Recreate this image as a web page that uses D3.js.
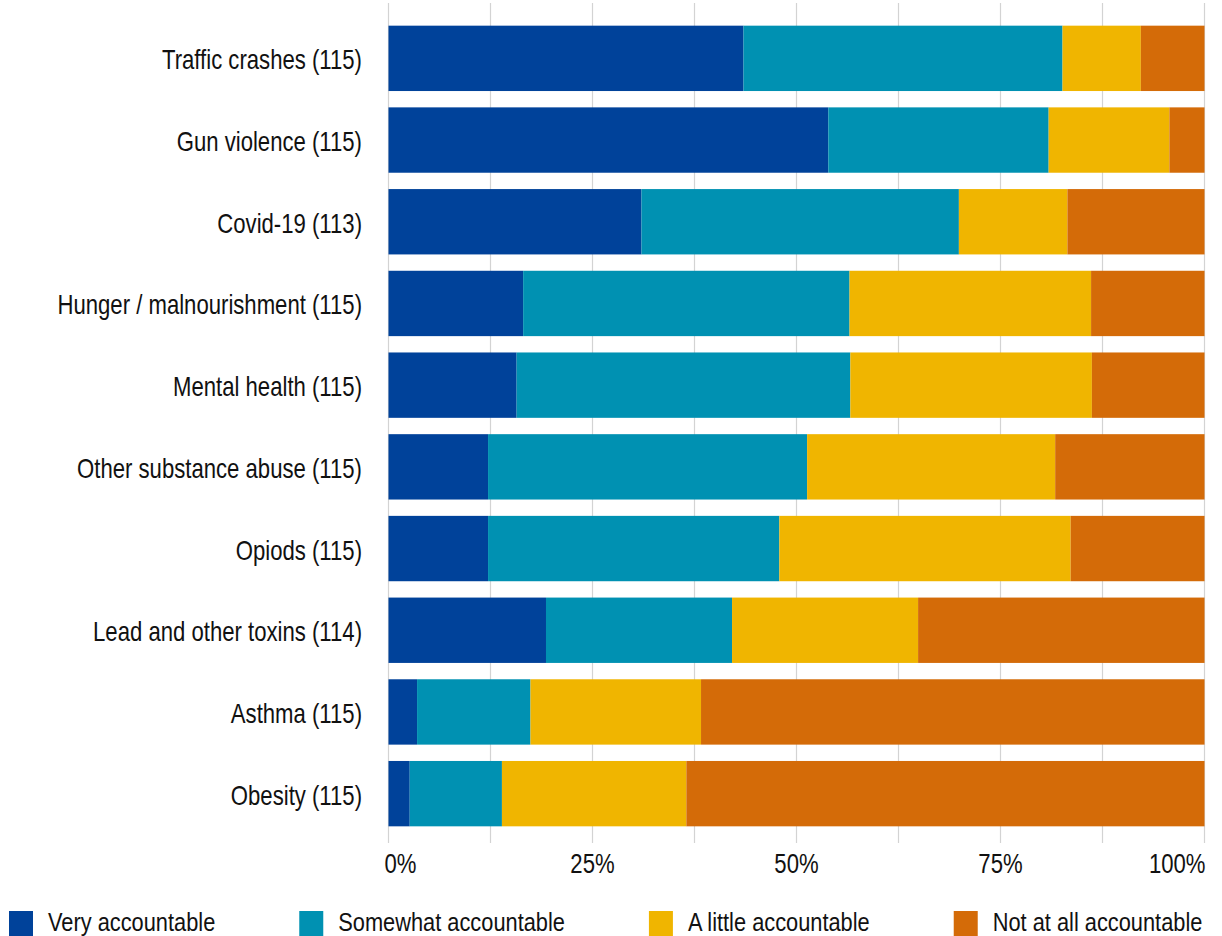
<!DOCTYPE html>
<html>
<head>
<meta charset="utf-8">
<script src="https://cdn.jsdelivr.net/npm/d3@7"></script>
<style>
  html, body { margin: 0; padding: 0; background: #fff; }
  svg { display: block; }
</style>
</head>
<body>
<svg id="chart" width="1222" height="936"></svg>
<script>
// ---- Data (percent of respondents) ----
const categories = [
  "Traffic crashes (115)",
  "Gun violence (115)",
  "Covid-19 (113)",
  "Hunger / malnourishment (115)",
  "Mental health (115)",
  "Other substance abuse (115)",
  "Opiods (115)",
  "Lead and other toxins (114)",
  "Asthma (115)",
  "Obesity (115)"
];
const seriesNames = ["Very accountable", "Somewhat accountable", "A little accountable", "Not at all accountable"];
const veryAccountable     = [43.5, 53.9, 31.0, 16.5, 15.7, 12.2, 12.2, 19.3, 3.5, 2.6];
const somewhatAccountable = [39.1, 27.0, 38.9, 40.0, 40.9, 39.1, 35.7, 22.8, 13.9, 11.3];
const littleAccountable   = [9.6, 14.8, 13.3, 29.6, 29.6, 30.4, 35.7, 22.8, 20.9, 22.6];
const notAtAllAccountable = [7.8, 4.3, 16.8, 13.9, 13.9, 18.3, 16.5, 35.1, 61.7, 63.5];
const tickValues = [0, 12.5, 25, 37.5, 50, 62.5, 75, 87.5, 100];
const tickLabels = ["0%", "", "25%", "", "50%", "", "75%", "", "100%"];
const colors = ["#00429a", "#0091b2", "#f0b500", "#d46b08"];

// ---- Font detection (narrow face if present, otherwise condensed Arial-metric) ----
function hasFont(name) {
  const c = document.createElement("canvas").getContext("2d");
  const t = "Very accountable 0123456789";
  c.font = "26px monospace";
  const a = c.measureText(t).width;
  c.font = "26px '" + name + "', monospace";
  const b = c.measureText(t).width;
  return Math.abs(a - b) > 0.5;
}
let fontFamily, sx;
if (hasFont("Liberation Sans Narrow")) { fontFamily = "'Liberation Sans Narrow', 'Arial Narrow', sans-serif"; sx = 1; }
else if (hasFont("Arial Narrow")) { fontFamily = "'Arial Narrow', sans-serif"; sx = 1; }
else { fontFamily = "'Liberation Sans', Arial, sans-serif"; sx = 0.82; }
const fontSize = 27;

const svg = d3.select("#chart");

function addText(parent, x, y, str, anchor, size) {
  const g = parent.append("g").attr("transform", `translate(${x},${y}) scale(${sx},1)`);
  const t = g.append("text")
    .attr("x", 0).attr("y", 0)
    .attr("text-anchor", anchor)
    .attr("font-family", fontFamily)
    .attr("font-size", size || fontSize)
    .attr("fill", "#111")
    .text(str);
  return t;
}

// ---- Scales ----
const x = d3.scaleLinear().domain([0, 100]).range([388.5, 1204.5]);
const y = d3.scaleBand().domain(categories).range([17.5, 834.5]).paddingInner(0.2).paddingOuter(0.1);

// ---- Gridlines ----
svg.append("g").selectAll("line")
  .data(tickValues)
  .join("line")
  .attr("x1", d => x(d)).attr("x2", d => x(d))
  .attr("y1", 3).attr("y2", 843)
  .attr("stroke", "#d3d3d3")
  .attr("stroke-width", 1.2);

// ---- Stacked bars ----
const rows = categories.map((c, i) => ({
  category: c,
  s0: veryAccountable[i], s1: somewhatAccountable[i], s2: littleAccountable[i], s3: notAtAllAccountable[i]
}));
const stack = d3.stack().keys(["s0", "s1", "s2", "s3"]);
const stacked = stack(rows);

svg.append("g").selectAll("g")
  .data(stacked)
  .join("g")
  .attr("fill", (d, i) => colors[i])
  .selectAll("rect")
  .data(d => d)
  .join("rect")
  .attr("x", d => x(d[0]))
  .attr("width", d => Math.max(0, x(Math.min(100, d[1])) - x(d[0])))
  .attr("y", d => y(d.data.category))
  .attr("height", y.bandwidth());

// ---- Category labels ----
const labelG = svg.append("g");
categories.forEach(c => {
  addText(labelG, 362, y(c) + y.bandwidth() / 2 + 11, c, "end");
});

// ---- X tick labels ----
const tickG = svg.append("g");
tickValues.forEach((v, i) => {
  if (!tickLabels[i]) return;
  let anchor = "middle", xx = x(v);
  if (i === 0) { anchor = "start"; xx = x(v) - 4; }
  else if (i === tickValues.length - 1) { anchor = "end"; xx = x(v) + 1; }
  addText(tickG, xx, 873, tickLabels[i], anchor);
});

// ---- Legend ----
const legendG = svg.append("g");
let lx = 9;
seriesNames.forEach((name, i) => {
  legendG.append("rect")
    .attr("x", lx).attr("y", 911)
    .attr("width", 24).attr("height", 25)
    .attr("fill", colors[i]);
  const t = addText(legendG, lx + 39, 931, name, "start", 26.6);
  const w = t.node().getComputedTextLength() * sx;
  lx = lx + 39 + w + 84;
});
</script>
</body>
</html>
